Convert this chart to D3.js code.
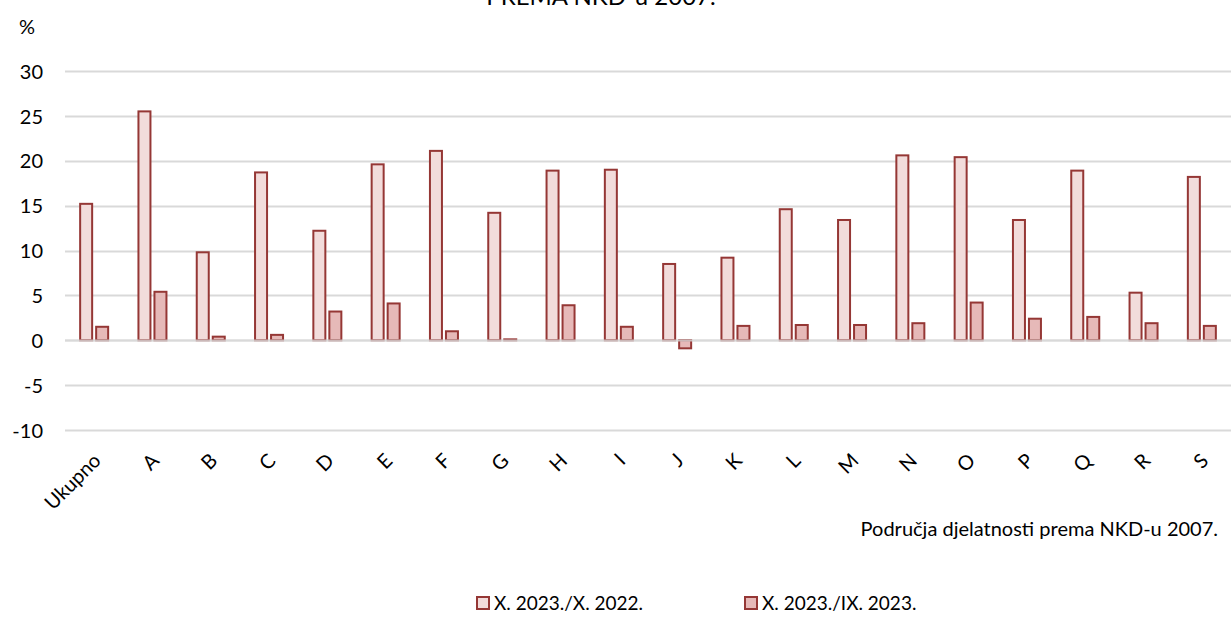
<!DOCTYPE html>
<html>
<head>
<meta charset="utf-8">
<script src="https://cdn.jsdelivr.net/npm/d3@7"></script>
<style>
  html, body { margin: 0; padding: 0; background: #fff; }
  svg { display: block; font-family: Lato, "Open Sans", sans-serif; }
</style>
</head>
<body>
<svg id="chart" width="1231" height="617"></svg>
<script>
const categories = ["Ukupno","A","B","C","D","E","F","G","H","I","J","K","L","M","N","O","P","Q","R","S"];
const seriesNames = ["X. 2023./X. 2022.", "X. 2023./IX. 2023."];
const yoy = [15.2,25.5,9.8,18.7,12.2,19.6,21.1,14.2,18.9,19.0,8.5,9.2,14.6,13.4,20.6,20.4,13.4,18.9,5.3,18.2];
const mom = [1.5,5.4,0.4,0.6,3.2,4.1,1.0,0.1,3.9,1.5,-0.9,1.6,1.7,1.7,1.9,4.2,2.4,2.6,1.9,1.6];
const yTicks = [-10,-5,0,5,10,15,20,25,30];
const titleText = "PREMA NKD-u 2007.";
const xAxisTitle = "Područja djelatnosti prema NKD-u 2007.";
const yUnit = "%";

const svg = d3.select("#chart");
const fills = ["#f2dcdb", "#e6b9b8"];
const strokeCol = "#953735";
const FONT = "Lato, 'Open Sans', sans-serif";

const x = d3.scaleBand().domain(categories).range([65, 1231]).paddingInner(0).paddingOuter(0);
const y = d3.scaleLinear().domain([-10, 30]).range([430, 71]);

// gridlines
svg.append("g").selectAll("line").data(yTicks).join("line")
  .attr("x1", 65).attr("x2", 1231)
  .attr("y1", d => Math.round(y(d)) + 0.5).attr("y2", d => Math.round(y(d)) + 0.5)
  .attr("stroke", "#d9d9d9").attr("stroke-width", 2);

// y labels
const yAxis = d3.axisLeft(y).tickValues(yTicks).tickSize(0).tickPadding(0)
  .tickFormat(d => String(d));
const ga = svg.append("g").attr("transform", "translate(43,0)").call(yAxis);
ga.select(".domain").remove();
ga.selectAll("text").attr("font-size", 20).attr("fill", "#000").attr("font-family", FONT).attr("dy", "0.36em");

// bars
const bw = 14;
const data = [yoy, mom];
data.forEach((vals, si) => {
  svg.append("g").selectAll("rect").data(categories).join("rect")
    .attr("x", (c) => x(c) + x.bandwidth() / 2 + (si === 0 ? -15 : 1) + 1)
    .attr("width", bw - 2)
    .attr("y", (c, i) => Math.min(y(vals[i]), y(0)))
    .attr("height", (c, i) => Math.abs(y(vals[i]) - y(0)))
    .attr("fill", fills[si]).attr("stroke", strokeCol).attr("stroke-width", 2);
});

// zero line overlay
svg.append("line").attr("x1", 65).attr("x2", 1231)
  .attr("y1", Math.round(y(0)) + 0.5).attr("y2", Math.round(y(0)) + 0.5)
  .attr("stroke", "#d9d9d9").attr("stroke-width", 2).attr("opacity", 0.8);

// x labels
const xAxis = d3.axisBottom(x).tickSize(0).tickPadding(0);
const gx = svg.append("g").attr("transform", "translate(0,457)").call(xAxis);
gx.select(".domain").remove();
gx.selectAll("text")
  .attr("font-size", 20).attr("fill", "#000").attr("font-family", FONT)
  .attr("text-anchor", "end").attr("y", 0).attr("dy", "0.35em")
  .attr("transform", "translate(3,0) rotate(-45)");

// title, unit, axis title
svg.append("text").attr("x", 601).attr("y", 5).attr("text-anchor", "middle")
  .attr("font-size", 24).attr("fill", "#000").text(titleText);
svg.append("text").attr("x", 19).attr("y", 34).attr("font-size", 20).attr("fill", "#000").text(yUnit);
svg.append("text").attr("x", 1218).attr("y", 536).attr("text-anchor", "end")
  .attr("font-size", 20).attr("fill", "#000").text(xAxisTitle);

// legend
const legendX = [476, 744];
seriesNames.forEach((n, i) => {
  const g = svg.append("g").attr("transform", `translate(${legendX[i]},596)`);
  g.append("rect").attr("x", 1).attr("y", 1).attr("width", 12).attr("height", 12)
    .attr("fill", fills[i]).attr("stroke", strokeCol).attr("stroke-width", 2);
  g.append("text").attr("x", 18).attr("y", 7).attr("dy", "0.36em")
    .attr("font-size", 19).attr("fill", "#000").text(n);
});
</script>
</body>
</html>
